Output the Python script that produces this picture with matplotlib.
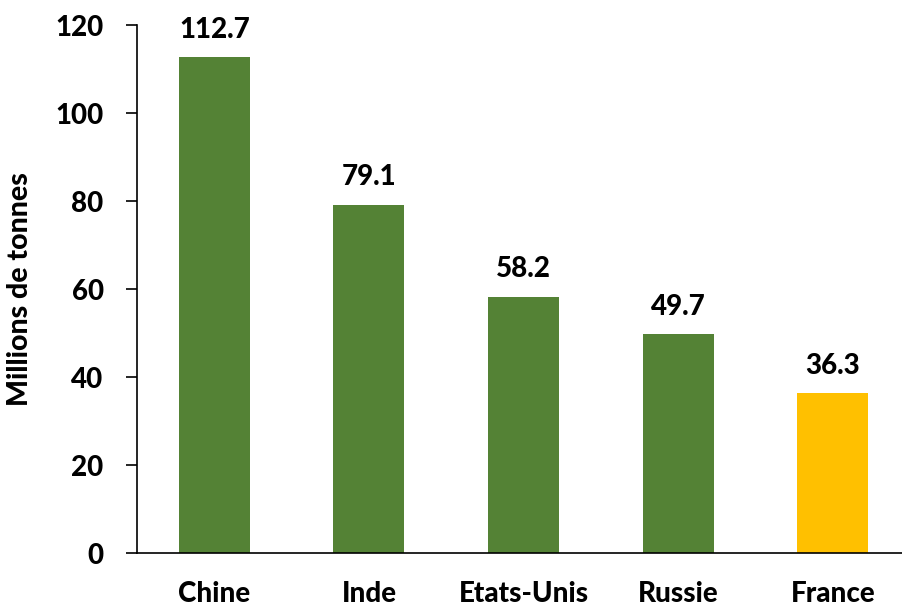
import matplotlib
matplotlib.use("Agg")
import matplotlib.pyplot as plt

# Production data (millions de tonnes)
countries = ["Chine", "Inde", "Etats-Unis", "Russie", "France"]
values = [112.7, 79.1, 58.2, 49.7, 36.3]
bar_colors = ["#548235", "#548235", "#548235", "#548235", "#FFC000"]
yticks = [0, 20, 40, 60, 80, 100, 120]

plt.rcParams["font.family"] = ["Lato", "DejaVu Sans"]
plt.rcParams["font.weight"] = "black"

fig = plt.figure(figsize=(9.02, 6.10), dpi=100)
ax = fig.add_axes([0.1519, 0.0934, 0.857, 0.8656])

x = range(len(countries))
bars = ax.bar(x, values, width=0.46, color=bar_colors)

for b, v in zip(bars, values):
    ax.text(b.get_x() + b.get_width() / 2, v + 3.3, f"{v:.1f}",
            ha="center", va="bottom", fontsize=20, fontweight="black")

ax.set_xlim(-0.5, len(countries) - 0.5)
ax.set_ylim(0, 120)
ax.set_yticks(yticks)
ax.set_xticks(list(x))
ax.set_xticklabels(countries)
ax.set_ylabel("Millions de tonnes", fontsize=20.5, fontweight="black", labelpad=16)

ax.spines["top"].set_visible(False)
ax.spines["right"].set_visible(False)
ax.tick_params(axis="y", direction="out", length=8, width=1.2, labelsize=20, pad=16)
ax.tick_params(axis="x", length=0, labelsize=20, pad=20)
for lab in ax.get_xticklabels() + ax.get_yticklabels():
    lab.set_fontweight("black")
ax.spines["left"].set_linewidth(1.2)
ax.spines["bottom"].set_linewidth(1.2)

fig.savefig("out.png", dpi=100)
